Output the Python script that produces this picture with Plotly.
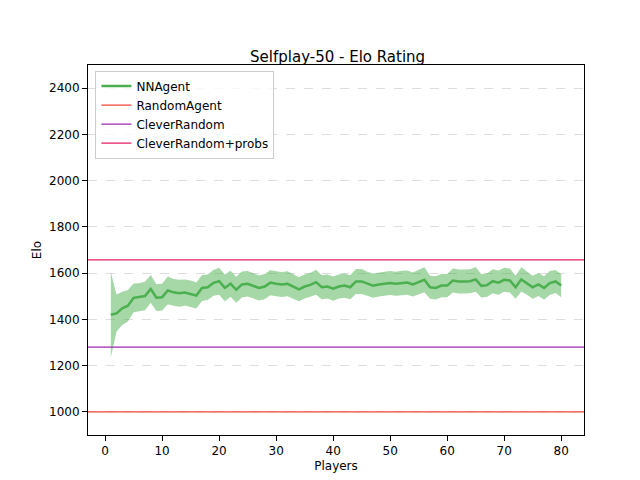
import plotly.graph_objects as go

players = list(range(1, 81))
nn_mean = [1420,1426,1448,1459,1493,1496,1501,1532,1494,1496,1525,1517,1513,1516,1510,1503,1536,1539,1558,1565,
           1536,1554,1528,1551,1554,1546,1536,1542,1559,1554,1551,1554,1542,1530,1542,1549,1561,1539,1542,1533,
           1542,1546,1539,1564,1564,1554,1546,1551,1554,1557,1554,1558,1559,1551,1561,1571,1539,1536,1546,1546,
           1568,1564,1564,1565,1573,1545,1548,1565,1559,1571,1568,1539,1573,1557,1539,1551,1536,1557,1564,1546]
nn_std = [185,80,72,68,62,60,62,60,58,58,60,58,58,56,58,56,56,55,56,58,
          58,56,56,56,55,55,54,54,55,54,54,54,52,52,52,52,54,52,52,52,
          52,52,52,54,54,52,52,52,52,52,52,52,52,52,52,54,50,50,50,50,
          52,52,52,52,54,50,50,52,52,52,52,50,52,50,50,50,50,52,50,50]
lo = [m - s for m, s in zip(nn_mean, nn_std)]
hi = [m + s for m, s in zip(nn_mean, nn_std)]
random_elo, clever_elo, cleverp_elo = 1000, 1280, 1657

fig = go.Figure()
fig.add_trace(go.Scatter(x=players, y=hi, mode="lines", line=dict(width=0), showlegend=False, hoverinfo="skip"))
fig.add_trace(go.Scatter(x=players, y=lo, mode="lines", line=dict(width=0), fill="tonexty",
                         fillcolor="rgba(76,175,80,0.5)", showlegend=False, hoverinfo="skip"))
fig.add_trace(go.Scatter(x=players, y=nn_mean, mode="lines", name="NNAgent", line=dict(color="#4caf50", width=2.5)))
for name, val, col in [("RandomAgent", random_elo, "#f44336"), ("CleverRandom", clever_elo, "#9c27b0"),
                       ("CleverRandom+probs", cleverp_elo, "#e91e63")]:
    fig.add_trace(go.Scatter(x=[-3, 84], y=[val, val], mode="lines", name=name, line=dict(color=col, width=1.2)))

axis = dict(showline=True, linecolor="black", mirror=True, ticks="outside", tickcolor="black",
            zeroline=False, automargin=False, tickfont=dict(size=12, color="black"))
fig.update_layout(
    width=640, height=480, plot_bgcolor="white", paper_bgcolor="white",
    font=dict(family="DejaVu Sans", color="black", size=12),
    title=dict(text="Selfplay-50 - Elo Rating", x=0.515, xanchor="center", y=0.91, font=dict(size=15)),
    margin=dict(l=80, r=64, t=57, b=53),
    xaxis=dict(axis, range=[-3, 84], tickvals=[0,10,20,30,40,50,60,70,80], showgrid=False,
               title=dict(text="Players", standoff=4, font=dict(size=12))),
    yaxis=dict(axis, range=[900, 2500], tickvals=list(range(1000, 2500, 200)), showgrid=True,
               gridcolor="#dddddd", griddash="dash", title=dict(text="Elo", standoff=4, font=dict(size=12))),
    legend=dict(x=0.015, y=0.985, xanchor="left", yanchor="top", bordercolor="#cccccc", borderwidth=1,
                traceorder="normal", bgcolor="rgba(255,255,255,0.8)", font=dict(size=12)),
)
fig.write_html("out.html")
